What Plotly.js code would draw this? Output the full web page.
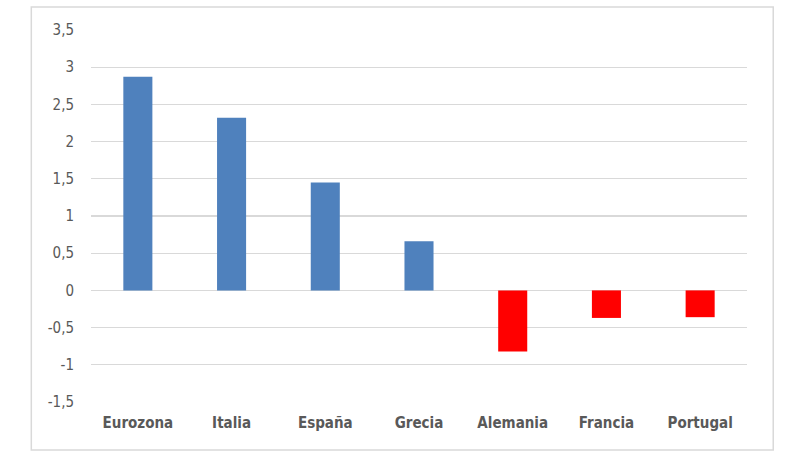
<!DOCTYPE html>
<html>
<head>
<meta charset="utf-8">
<script src="https://cdn.plot.ly/plotly-3.0.1.min.js"></script>
<style>
  html, body { margin: 0; padding: 0; background: #fff; }
  #chart { width: 800px; height: 457px; }
</style>
</head>
<body>
<div id="chart"></div>
<script>
const paises = ["Eurozona", "Italia", "España", "Grecia", "Alemania", "Francia", "Portugal"];
const valores = [2.87, 2.32, 1.45, 0.66, -0.82, -0.37, -0.36];
const tickVals = [-1.5, -1, -0.5, 0, 0.5, 1, 1.5, 2, 2.5, 3, 3.5];
const tickText = ["-1,5", "-1", "-0,5", "0", "0,5", "1", "1,5", "2", "2,5", "3", "3,5"];

const C = { blue: "#4f81bd", red: "#ff0000", grid: "#d9d9d9", text: "#595959", frame: "#d9d9d9" };
const font = "Liberation Sans Narrow, DejaVu Sans Condensed, Arial Narrow, sans-serif";

Plotly.newPlot("chart", [{
  x: paises, y: valores, type: "bar",
  marker: { color: valores.map(v => v >= 0 ? C.blue : C.red) },
  hoverinfo: "x+y"
}], {
  width: 800, height: 457,
  margin: { l: 91, r: 53, t: 30, b: 55 },
  paper_bgcolor: "#fff", plot_bgcolor: "#fff",
  separators: ",.",
  bargap: 0.69,
  showlegend: false,
  font: { family: font, color: C.text, size: 14 },
  xaxis: {
    showgrid: false, showline: false, ticks: "",
    ticklabelstandoff: 10,
    tickfont: { family: font, size: 15, color: C.text, weight: "bold" }
  },
  yaxis: {
    range: [-1.5, 3.5], tickvals: tickVals, ticktext: tickText,
    gridcolor: C.grid, gridwidth: 1.3,
    zeroline: true, zerolinecolor: C.grid, zerolinewidth: 1.3,
    showline: false, ticks: "", ticklabelstandoff: 16,
    tickfont: { family: font, size: 15, color: C.text }
  },
  shapes: [{
    type: "rect", xref: "paper", yref: "paper",
    x0: -0.091, x1: 1.04, y0: -0.129, y1: 1.062,
    line: { color: C.frame, width: 1.5 }, fillcolor: "rgba(0,0,0,0)", layer: "below"
  }]
}, { displayModeBar: false, staticPlot: true });
</script>
</body>
</html>
